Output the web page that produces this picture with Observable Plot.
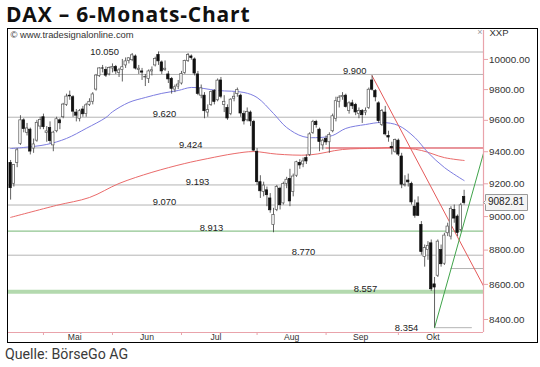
<!DOCTYPE html>
<html>
<head>
<meta charset="utf-8">
<script src="https://cdn.jsdelivr.net/npm/d3@7"></script>
<script src="https://cdn.jsdelivr.net/npm/@observablehq/plot@0.6"></script>
<style>
  html, body { margin: 0; padding: 0; background: #fff; }
  body { width: 540px; height: 367px; position: relative; overflow: hidden; }
  #title { position: absolute; left: 6px; top: 0px; font: 700 21px "Open Sans", sans-serif; line-height: normal; letter-spacing: 0.8px; color: #111; white-space: nowrap; }
  #chart { position: absolute; left: 0; top: 26px; }
  #frame { position: absolute; left: 7px; top: 28px; width: 529px; height: 313px; border: 1.5px solid #000; pointer-events: none; }
  #caption { position: absolute; left: 5px; top: 346px; font: 400 14.2px/17px "Liberation Sans Narrow", "Roboto", sans-serif; color: #3a3a3a; white-space: nowrap; }
</style>
</head>
<body>
<div id="title">DAX – 6-Monats-Chart</div>
<div id="chart"></div>
<div id="frame"></div>
<div id="caption">Quelle: BörseGo AG</div>
<script>
// ---- data ----
const dates = [
 "2014-04-15","2014-04-16","2014-04-17","2014-04-22","2014-04-23","2014-04-24","2014-04-25","2014-04-28","2014-04-29","2014-04-30",
 "2014-05-02","2014-05-05","2014-05-06","2014-05-07","2014-05-08","2014-05-09","2014-05-12","2014-05-13","2014-05-14","2014-05-15","2014-05-16","2014-05-19","2014-05-20","2014-05-21","2014-05-22","2014-05-23","2014-05-26","2014-05-27","2014-05-28","2014-05-29","2014-05-30",
 "2014-06-02","2014-06-03","2014-06-04","2014-06-05","2014-06-06","2014-06-09","2014-06-10","2014-06-11","2014-06-12","2014-06-13","2014-06-16","2014-06-17","2014-06-18","2014-06-19","2014-06-20","2014-06-23","2014-06-24","2014-06-25","2014-06-26","2014-06-27","2014-06-30",
 "2014-07-01","2014-07-02","2014-07-03","2014-07-04","2014-07-07","2014-07-08","2014-07-09","2014-07-10","2014-07-11","2014-07-14","2014-07-15","2014-07-16","2014-07-17","2014-07-18","2014-07-21","2014-07-22","2014-07-23","2014-07-24","2014-07-25","2014-07-28","2014-07-29","2014-07-30","2014-07-31",
 "2014-08-01","2014-08-04","2014-08-05","2014-08-06","2014-08-07","2014-08-08","2014-08-11","2014-08-12","2014-08-13","2014-08-14","2014-08-15","2014-08-18","2014-08-19","2014-08-20","2014-08-21","2014-08-22","2014-08-25","2014-08-26","2014-08-27","2014-08-28","2014-08-29",
 "2014-09-01","2014-09-02","2014-09-03","2014-09-04","2014-09-05","2014-09-08","2014-09-09","2014-09-10","2014-09-11","2014-09-12","2014-09-15","2014-09-16","2014-09-17","2014-09-18","2014-09-19","2014-09-22","2014-09-23","2014-09-24","2014-09-25","2014-09-26","2014-09-29","2014-09-30",
 "2014-10-01","2014-10-02","2014-10-03","2014-10-06","2014-10-07","2014-10-08","2014-10-09","2014-10-10","2014-10-13","2014-10-14","2014-10-15","2014-10-16","2014-10-17","2014-10-20","2014-10-21","2014-10-22","2014-10-23","2014-10-24","2014-10-27","2014-10-28","2014-10-29"
];
const open = [
 9330,9200,9330,9450,9600,9520,9540,9420,9470,9560,
 9620,9520,9550,9440,9530,9600,9620,9700,9760,9750,9650,9610,9670,9640,9700,9720,9800,9890,9940,9930,9900,
 9940,9950,9910,9930,9960,9990,9995,10020,9930,9920,9880,9870,9920,9960,10030,9980,9930,9900,9870,9800,9820,
 9840,9910,9990,10020,10000,9900,9760,9760,9650,9700,9790,9730,9860,9700,9680,9640,9740,9770,9760,9640,9600,9650,9590,
 9400,9210,9150,9160,9110,8950,9040,9170,9080,9200,9230,9150,9250,9330,9320,9360,9380,9520,9590,9540,9440,
 9480,9460,9530,9610,9720,9750,9760,9660,9710,9700,9640,9660,9650,9680,9860,9790,9710,9570,9650,9500,9430,9400,
 9470,9370,9190,9220,9200,9060,9080,8950,8760,8800,8840,8600,8650,8800,8720,8900,8880,9040,9000,8920,9120
];
const high = [
 9345,9320,9420,9630,9610,9580,9550,9480,9600,9620,
 9640,9560,9590,9530,9620,9610,9710,9770,9790,9760,9670,9670,9690,9710,9740,9780,9900,9945,9960,9950,9950,
 9970,9960,9940,10000,10010,10010,10040,10030,9960,9940,9900,9930,9950,10015,10050,9990,9990,9920,9880,9830,9860,
 9920,9995,10040,10030,10010,9920,9830,9780,9700,9790,9800,9870,9880,9760,9700,9740,9780,9810,9770,9660,9680,9660,9600,
 9420,9250,9210,9180,9140,9050,9190,9180,9210,9240,9290,9260,9340,9350,9360,9380,9520,9600,9600,9550,9480,
 9500,9520,9640,9750,9760,9780,9770,9720,9730,9710,9680,9670,9680,9810,9891,9800,9720,9670,9690,9530,9460,9480,
 9480,9390,9250,9260,9210,9100,9120,8970,8830,8850,8860,8640,8860,8830,8900,8960,9060,9070,9010,9080,9160
];
const low = [
 9100,9180,9300,9440,9520,9500,9380,9390,9460,9540,
 9540,9460,9450,9400,9520,9540,9610,9690,9730,9620,9590,9590,9620,9620,9690,9700,9790,9880,9910,9880,9890,
 9910,9900,9880,9850,9940,9970,9985,9930,9900,9860,9820,9840,9890,9950,9960,9900,9920,9840,9770,9780,9800,
 9830,9900,9980,9995,9890,9760,9740,9610,9620,9690,9700,9720,9740,9650,9600,9630,9720,9750,9620,9570,9590,9560,9400,
 9190,9110,9120,9060,9020,8903,9030,9040,9070,9170,9060,9120,9240,9290,9300,9320,9370,9510,9550,9400,9410,
 9440,9390,9520,9590,9680,9730,9680,9640,9670,9630,9610,9580,9630,9670,9790,9720,9580,9560,9500,9460,9380,9390,
 9370,9170,9180,9180,9070,8990,9000,8770,8700,8740,8560,8355,8640,8700,8710,8880,8860,8960,8880,8910,9070
];
const close = [
 9173,9317,9409,9600,9544,9548,9401,9446,9584,9603,
 9556,9529,9467,9521,9607,9581,9702,9754,9755,9656,9630,9659,9639,9697,9720,9768,9893,9940,9939,9892,9943,
 9950,9920,9927,9948,9987,10008,10028,9939,9938,9912,9883,9920,9928,10004,9987,9920,9938,9867,9805,9815,9833,
 9902,9990,10029,10009,9906,9772,9808,9659,9666,9783,9719,9859,9753,9720,9612,9734,9753,9797,9644,9593,9653,9593,9407,
 9210,9154,9189,9130,9038,9009,9180,9069,9198,9225,9092,9245,9334,9314,9339,9339,9510,9588,9569,9462,9470,
 9459,9507,9626,9724,9747,9758,9686,9710,9691,9651,9660,9633,9661,9799,9799,9749,9595,9661,9510,9490,9422,9474,
 9382,9195,9195,9209,9086,9005,9005,8788,8812,8825,8572,8582,8850,8717,8886,8940,9047,8988,8902,9068,9082.81
];
// moving averages (day index, value)
const blueMaDay = [0,4,11,17,23,29,31,36,41,46,51,55,63,71,75,80,84,89,94,98,102,108,113,118,123,127,132,138];
const blueMaVal = [9420,9427,9446,9484,9548,9618,9655,9716,9748,9775,9794,9814,9794,9781,9748,9644,9554,9496,9490,9503,9548,9573,9586,9567,9490,9395,9301,9220];
const redMaDay = [0,14,24,33,43,53,60,68,74,81,91,101,111,118,125,132,138];
const redMaVal = [8995,9068,9116,9202,9271,9326,9357,9388,9401,9385,9380,9414,9422,9427,9408,9363,9345];
// horizontal levels
const levelValues = [10050, 9900, 9620, 9424, 9193, 9070, 8913, 8770, 8692, 8557, 8354];
const levelLabels = ["10.050","9.900","9.620","9.424","9.193","9.070","8.913","8.770","","8.557","8.354"];
const monthNames = ["Mai","Jun","Jul","Aug","Sep","Okt"];
const yTickValues = [8400, 8600, 8800, 9000, 9200, 9400, 9600, 9800, 10000];
// trend lines (start day, start value, end value at right edge)
const redTrend = {day: 110, from: 9891, to: 8591};
const greenTrend = {day: 129, from: 8354, to: 9390};

// ---- layout / style (not data) ----
const xMin = -0.64, xMax = 143.9;
const yMin = 8327, yMax = 10196;
const pink = "#e9a3ab";
const levelLayout = [ // start day (null = left edge), end day (null = right edge), stroke, width
  {start: 45, end: null, stroke: "#b4b4b4", w: 1},
  {start: 27, end: null, stroke: "#b4b4b4", w: 1},
  {start: null, end: null, stroke: "#b4b4b4", w: 1},
  {start: null, end: null, stroke: "#b4b4b4", w: 1},
  {start: null, end: null, stroke: "#b4b4b4", w: 1},
  {start: null, end: null, stroke: "#b4b4b4", w: 1},
  {start: null, end: null, stroke: "#8fc48f", w: 1.2},
  {start: null, end: null, stroke: "#b4b4b4", w: 1},
  {start: 134, end: null, stroke: "#b4b4b4", w: 1},
  {start: null, end: null, stroke: "#b3d9ae", w: 4},
  {start: 129, end: 140.5, stroke: "#b4b4b4", w: 1}
];
const labelLayout = [ // label centre day, vertical placement
  {day: 28.6, pos: "mid"}, {day: 104.7, pos: "above"}, {day: 46.8, pos: "above"}, {day: 54.8, pos: "above"},
  {day: 56.9, pos: "above"}, {day: 46.8, pos: "above"}, {day: 61.1, pos: "above"}, {day: 89.1, pos: "above"},
  null, {day: 108, pos: "above"}, {day: 120.5, pos: "mid"}
];

// ---- build tables ----
const candles = dates.map((d, i) => ({i, date: d, open: open[i], high: high[i], low: low[i], close: close[i]}));
const blueMa = blueMaDay.map((d, k) => ({i: d, v: blueMaVal[k]}));
const redMa = redMaDay.map((d, k) => ({i: d, v: redMaVal[k]}));
const levels = levelValues.map((v, k) => ({
  v, label: levelLabels[k],
  x1: levelLayout[k].start ?? xMin, x2: levelLayout[k].end ?? xMax,
  stroke: levelLayout[k].stroke, w: levelLayout[k].w,
  lx: labelLayout[k] ? labelLayout[k].day : null, pos: labelLayout[k] ? labelLayout[k].pos : null
}));
const redBand = [{v: levelValues[3], x1: 96, x2: xMax}];
const labelsAbove = levels.filter(d => d.label && d.pos === "above");
const labelsMid = levels.filter(d => d.label && d.pos === "mid");
const redTrendPts = [{i: redTrend.day, v: redTrend.from}, {i: xMax, v: redTrend.to}];
const greenTrendPts = [{i: greenTrend.day, v: greenTrend.from}, {i: xMax, v: greenTrend.to}];

// month ticks (first trading day) and labels (first trading day on/after the 15th)
const monthStarts = [], monthLabelPos = [], monthLabelMap = new Map();
dates.forEach((d, i) => {
  if (i > 0 && d.slice(5, 7) !== dates[i - 1].slice(5, 7)) monthStarts.push(i);
});
const seenMonth = new Set();
dates.forEach((d, i) => {
  const m = d.slice(5, 7);
  if (m !== "04" && +d.slice(8) >= 15 && !seenMonth.has(m)) {
    seenMonth.add(m);
    const p = i + 0.5;
    monthLabelPos.push(p);
    monthLabelMap.set(p, monthNames[monthLabelPos.length - 1]);
  }
});
const last = candles[candles.length - 1];
const tipData = [{i: xMax, v: last.close}];

const marks = [
  // level lines
  Plot.ruleY(levels, {y: "v", x1: "x1", x2: "x2", stroke: "stroke", strokeWidth: "w"}),
  Plot.ruleY(redBand, {y: "v", x1: "x1", x2: "x2", stroke: "#ee7f87", strokeWidth: 2, strokeOpacity: 0.75}),
  // moving averages
  Plot.line(redMa, {x: "i", y: "v", stroke: "#ea6b6b", strokeWidth: 1, curve: "catmull-rom", clip: true}),
  Plot.line(blueMa, {x: "i", y: "v", stroke: "#7d7de0", strokeWidth: 1, curve: "catmull-rom", clip: true}),
  // trend lines
  Plot.line(redTrendPts, {x: "i", y: "v", stroke: "#e55a5a", strokeWidth: 1, clip: true}),
  Plot.line(greenTrendPts, {x: "i", y: "v", stroke: "#3fa34a", strokeWidth: 1, clip: true}),
  // candles
  Plot.ruleX(candles, {x: "i", y1: "low", y2: "high", stroke: "#3a3a3a", strokeWidth: 0.8, clip: true}),
  Plot.rect(candles, {
    x1: d => d.i - 0.36, x2: d => d.i + 0.36, y1: "open", y2: "close",
    fill: d => d.close >= d.open ? "#ffffff" : "#111111",
    stroke: d => d.close >= d.open ? "#555555" : "#111111",
    strokeWidth: 0.7, clip: true
  }),
  // level labels
  Plot.text(labelsAbove, {x: "lx", y: "v", text: "label", lineAnchor: "bottom", dy: 0, fontSize: 9.4, fill: "#222"}),
  Plot.text(labelsMid, {x: "lx", y: "v", text: "label", lineAnchor: "middle", fontSize: 9.4, fill: "#222"}),
  // axes
  Plot.ruleX([xMax], {stroke: pink, strokeWidth: 1.2}),
  Plot.ruleY([yMin], {stroke: pink, strokeWidth: 1.2}),
  Plot.axisY(yTickValues, {anchor: "right", tickSize: 4, tickPadding: 1.5, stroke: pink, fill: "#333",
    tickFormat: d3.format(".2f"), fontSize: 9.8, label: null}),
  // month-start ticks: short rules hanging below the x axis line
  Plot.ruleX(monthStarts, {x: d => d, y1: () => yMin, y2: () => yMin, insetBottom: -3, stroke: pink, strokeWidth: 1}),
  Plot.axisX(monthLabelPos, {anchor: "bottom", tickSize: 0, tickPadding: 1.5, fill: "#333",
    tickFormat: d => monthLabelMap.get(d), fontSize: 8.6, label: null}),
  // header texts
  Plot.text(["© www.tradesignalonline.com"], {frameAnchor: "top-left", textAnchor: "start", lineAnchor: "top", dx: 2, dy: 1, fontSize: 9.4, fill: "#333"}),
  Plot.text(["XXP"], {frameAnchor: "top-right", textAnchor: "start", lineAnchor: "top", dx: 6, dy: -1, fontSize: 9.5, fill: "#333"}),
  Plot.text(["×"], {frameAnchor: "top-right", textAnchor: "end", lineAnchor: "top", dx: -1, dy: -2, fontSize: 9, fill: "#999"})
];
if (typeof Plot.tip === "function") {
  marks.push(Plot.tip(tipData, {x: "i", y: "v", title: d => d3.format(".2f")(d.v), anchor: "left",
    fontSize: 10, textPadding: 2.5, pointerSize: 4, fill: "#f4f4f4", stroke: "#999", pathFilter: "none"}));
} else {
  marks.push(Plot.text(tipData, {x: "i", y: "v", text: d => d3.format(".2f")(d.v), textAnchor: "start", dx: 7, fontSize: 10, fill: "#222"}));
}

const chart = Plot.plot({
  width: 540, height: 320,
  marginLeft: 8, marginRight: 57, marginTop: 4, marginBottom: 14,
  style: {fontFamily: "'Liberation Sans', Arial, sans-serif", fontSize: "9.5px", background: "transparent", color: "#222", overflow: "visible"},
  x: {type: "linear", domain: [xMin, xMax], axis: null},
  y: {type: "log", domain: [yMin, yMax], axis: null},
  marks
});
document.getElementById("chart").appendChild(chart);
// tidy: drop empty text/tspan nodes that draw nothing
function tidy() {
  chart.querySelectorAll("tspan").forEach(t => { if (!t.textContent.trim()) t.remove(); });
  chart.querySelectorAll("text").forEach(t => { if (!t.textContent.trim()) t.remove(); });
}
tidy();
requestAnimationFrame(tidy);
</script>
</body>
</html>
